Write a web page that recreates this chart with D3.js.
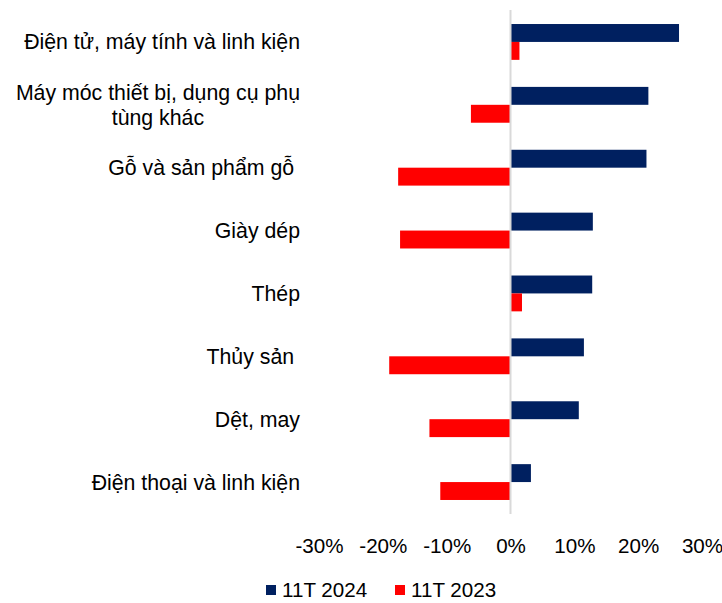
<!DOCTYPE html>
<html>
<head>
<meta charset="utf-8">
<script src="https://cdn.jsdelivr.net/npm/d3@7"></script>
<style>
  html, body { margin: 0; padding: 0; background: #fff; }
  svg { display: block; font-family: Arial, 'Liberation Sans', sans-serif; }
  text { white-space: pre; }
</style>
</head>
<body>
<svg width="722" height="603"></svg>
<script>
const categories = [
  'Điện tử, máy tính và linh kiện',
  'Máy móc thiết bị, dụng cụ phụ tùng khác',
  'Gỗ và sản phẩm gỗ ',
  'Giày dép',
  'Thép',
  'Thủy sản ',
  'Dệt, may',
  'Điện thoại và linh kiện',
];
const seriesNames = ['11T 2024', '11T 2023'];
const values2024 = [26.4, 21.6, 21.3, 12.9, 12.8, 11.5, 10.7, 3.2];
const values2023 = [1.4, -6.2, -17.6, -17.3, 1.8, -19.0, -12.7, -11.0];
const xTicks = [-30, -20, -10, 0, 10, 20, 30];
const colors = ['#002060', '#ff0000'];

const svg = d3.select('svg');
const LABEL_FONT = 21.3;
const FONT = 20.6;

const x = d3.scaleLinear().domain([-30, 30]).range([319, 702]);
const y = d3.scaleBand().domain(categories).range([10.5, 513.5])
  .paddingInner(0.43).paddingOuter(0.215);
const ySub = d3.scaleBand().domain(seriesNames).range([0, y.bandwidth()]);

const rows = categories.map((c, i) => ({ c, vals: [values2024[i], values2023[i]] }));

// ---------- bars ----------
const groups = svg.append('g').selectAll('g').data(rows).join('g')
  .attr('transform', d => `translate(0,${y(d.c)})`);

groups.selectAll('rect')
  .data(d => d.vals.map((v, k) => ({ v, k })))
  .join('rect')
  .attr('x', d => x(Math.min(0, d.v)))
  .attr('y', d => ySub(seriesNames[d.k]))
  .attr('width', d => Math.abs(x(d.v) - x(0)))
  .attr('height', ySub.bandwidth())
  .attr('fill', d => colors[d.k]);

// zero line
svg.append('line')
  .attr('x1', x(0)).attr('x2', x(0))
  .attr('y1', 10).attr('y2', 514)
  .attr('stroke', '#d9d9d9').attr('stroke-width', 2);

// ---------- x axis labels ----------
const xAxis = svg.append('g')
  .attr('transform', 'translate(0,553)')
  .call(d3.axisBottom(x).tickValues(xTicks).tickSize(0).tickFormat(d => d + '%'));
xAxis.select('.domain').remove();
xAxis.selectAll('text')
  .attr('y', 0).attr('dy', 0)
  .attr('font-size', FONT).attr('fill', '#000');
xAxis.attr('font-family', null);

// ---------- category labels ----------
const LABEL_RIGHT = 300;
const MAX_W = 300;
const LINE_H = 25;

const labels = svg.append('g').attr('font-size', LABEL_FONT).attr('fill', '#000');
categories.forEach(c => {
  const t = labels.append('text');
  const words = c.split(' ');
  const lines = [];
  let cur = '';
  words.forEach(w => {
    const test = cur ? cur + ' ' + w : w;
    t.text(test);
    if (t.node().getComputedTextLength() > MAX_W && cur) {
      lines.push(cur);
      cur = w;
    } else {
      cur = test;
    }
  });
  lines.push(cur);
  t.text(null);
  const widths = lines.map(l => {
    t.text(l);
    const w = t.node().getComputedTextLength();
    t.text(null);
    return w;
  });
  const blockW = d3.max(widths);
  const cy = y(c) + y.bandwidth() / 2;
  const y0 = cy + 7.5 - (lines.length - 1) * LINE_H / 2;
  lines.forEach((l, i) => {
    t.append('tspan')
      .attr('x', lines.length > 1 ? LABEL_RIGHT - blockW / 2 : LABEL_RIGHT)
      .attr('y', y0 + i * LINE_H)
      .attr('text-anchor', lines.length > 1 ? 'middle' : 'end')
      .text(l);
  });
});

// ---------- legend ----------
const legend = svg.append('g').attr('font-size', FONT);
const legendX = [266, 395];
seriesNames.forEach((s, i) => {
  legend.append('rect')
    .attr('x', legendX[i]).attr('y', 585)
    .attr('width', 10).attr('height', 10)
    .attr('fill', colors[i]);
  legend.append('text')
    .attr('x', legendX[i] + 16).attr('y', 597)
    .attr('fill', '#000')
    .text(s);
});
</script>
</body>
</html>
